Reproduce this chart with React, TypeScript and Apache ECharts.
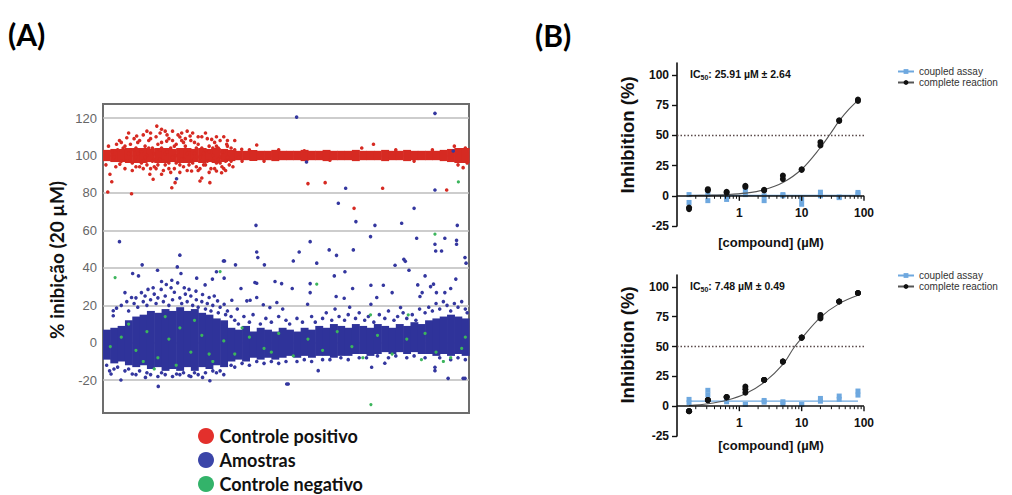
import React, { useEffect, useRef } from "react";
import * as echarts from "echarts";

// ---------------- Panel A data (x = sample position 0-100, y = % inhibition) ----------------
const binWidth = 2;
const yTicksA = [-20, 0, 20, 40, 60, 80, 100, 120];

// dense "Amostras" core, per 2-unit bin
const blueLow = [-9, -11, -10, -12, -13, -12, -14, -13, -15, -14, -15, -13, -15, -13, -14, -12, -13, -10, -9, -10, -8, -9, -8, -9, -8, -7, -8, -7, -8, -7, -7, -8, -7, -7, -6, -6, -7, -6, -5, -6, -5, -6, -5, -6, -6, -7, -6, -7, -6, -7];
const blueHigh = [7, 8, 9, 12, 14, 15, 17, 16, 18, 17, 19, 17, 18, 16, 15, 13, 12, 8, 7, 9, 6, 8, 7, 6, 8, 7, 6, 8, 7, 9, 8, 10, 9, 8, 10, 9, 8, 10, 9, 8, 10, 9, 11, 10, 12, 13, 14, 15, 14, 13];

// dense "Controle positivo" core, per 2-unit bin
const redLow = [97, 96.5, 96.5, 96, 96, 96, 96.5, 96, 96, 96.5, 96, 96, 96.5, 96, 96.5, 96, 96.5, 97, 97.5, 97.5, 97, 97.5, 97.5, 97, 97.5, 97.5, 97.5, 97, 97.5, 97.5, 97, 97.5, 97.5, 97.5, 97, 97.5, 97.5, 97.5, 97, 97.5, 97.5, 97, 97.5, 97.5, 97.5, 97.5, 97, 96.5, 96, 96];
const redHigh = [103, 103.5, 103.5, 104, 104, 104, 103.5, 104, 104, 103.5, 104, 104, 103.5, 104, 103.5, 104, 103.5, 103, 102.5, 102.5, 103, 102.5, 102.5, 103, 102.5, 102.5, 102.5, 103, 102.5, 102.5, 103, 102.5, 102.5, 102.5, 103, 102.5, 102.5, 102.5, 103, 102.5, 102.5, 103, 102.5, 102.5, 102.5, 102.5, 103, 103.5, 104, 104];

const redPoints = [
  [0.8, 95], [1.3, 80.5], [1.9, 90], [2.4, 86], [3.7, 106], [4.6, 95.4], [7.8, 79.6], [6.5, 109.5], [9.2, 110.4], [12.8, 90],
  [13.7, 87.3], [14.7, 115.7], [15.6, 112], [16, 90], [17.4, 107.7], [18.8, 82.8], [19.7, 85.5], [21, 109.9], [21.5, 108], [23.8, 110.4],
  [24.2, 91.7], [26.5, 86.4], [27, 88], [29.2, 85.5], [29.7, 108.6], [31, 91.7], [32.4, 90.8], [33.8, 106], [37.9, 103.3], [42, 105.6],
  [70.7, 104], [73.9, 106], [56, 85], [60.7, 85.5], [68.6, 71.8], [76.4, 82.5], [93.9, 81.6], [98.4, 93.5],
  [4, 103], [5, 97], [5.5, 104], [6, 93], [7, 101], [7.5, 106], [8, 96], [8.5, 103], [9, 99], [9.5, 107],
  [10, 94], [10.5, 102], [11, 97], [11.5, 105], [12, 100], [12.5, 108], [13, 93], [13.5, 104], [14, 98], [14.5, 110],
  [15, 95], [15.5, 103], [16, 107], [16.5, 92], [17, 101], [17.5, 111], [18, 96], [18.5, 104], [19, 99], [19.5, 93],
  [20, 106], [20.5, 102], [21, 95], [21.5, 112], [22, 98], [22.5, 105], [23, 92], [23.5, 103], [24, 108], [24.5, 96],
  [25, 101], [25.5, 94], [26, 106], [26.5, 99], [27, 110], [27.5, 95], [28, 103], [28.5, 97], [29, 105], [29.5, 93],
  [30, 100], [30.5, 107], [31, 96], [31.5, 104], [32, 99], [32.5, 94], [33, 102], [33.5, 97], [34, 105], [34.5, 95],
  [5, 107], [8, 92], [10, 108], [11, 93], [13, 112], [14, 94], [15, 106], [16.5, 97], [17, 113], [18, 93],
  [19, 108], [20, 96], [21, 91], [22, 107], [23, 113], [24, 97], [25, 107], [26, 92], [27, 104], [28, 112],
  [29, 91], [30, 104], [31, 110], [32, 96], [33, 93], [34, 108], [35, 97], [36, 103], [38, 97], [40, 103],
  [44, 97], [48, 103], [55, 102.5], [62, 97.5], [80, 103], [85, 97], [90, 103], [96, 105], [97, 95], [99, 104], [99.5, 96],
  [3, 99], [3.5, 94], [4.5, 108], [6, 105], [6.5, 97], [7, 112], [8.5, 109], [9, 94], [9.5, 101], [10.5, 96],
  [11, 111], [11.5, 99], [12, 95], [12.5, 104], [13, 109], [14, 101], [14.5, 93], [15.5, 98], [16, 104], [17, 95],
  [17.5, 102], [18, 109], [18.5, 91], [19.5, 105], [20, 100], [20.5, 111], [21.5, 98], [22, 94], [22.5, 109], [23, 101],
  [23.5, 95], [24.5, 112], [25, 98], [25.5, 104], [26, 110], [26.5, 93], [27.5, 101], [28, 95], [28.5, 109], [29, 102],
  [30, 97], [30.5, 93], [31, 105], [31.5, 98], [32, 108], [32.5, 102], [33, 110], [33.5, 92], [34, 99], [35, 104],
  [35.5, 94], [36, 108], [37, 99], [2.5, 102], [1.5, 105], [12, 113], [19, 113], [16, 114], [9, 104], [13.5, 97],
];

const bluePoints = [
  [52.9, 120.5], [90.7, 122.5], [95.7, 102.4], [55.6, 96.5], [20.1, 87.6], [66.3, 82.5], [90.7, 81.6], [64.3, 74.5], [85, 71.8], [69.1, 64.7],
  [41.8, 62.7], [74.3, 62.7], [81.6, 63.8], [96.8, 62.7], [4.5, 54], [56.6, 54], [73.1, 56.7], [85.7, 55.8], [90.7, 52.6], [93.4, 55.8],
  [96.6, 54.7], [96.6, 52.6], [92.5, 49], [90.9, 49], [98.9, 45.5], [99.2, 42.5], [53.6, 48.5], [61.8, 49.6], [63.8, 46.7], [68.4, 49.6],
  [52, 43.7], [58.4, 42.5], [79.8, 41.4], [82.2, 44.6], [82.6, 43.5], [83.6, 38.7], [63.2, 35.7], [66.1, 37.9], [51.7, 29], [56.6, 31.6],
  [56.6, 26.8], [68.2, 29], [73.2, 30.7], [76.6, 30.7], [79, 26.8], [86, 30.9], [88, 35.7], [89.5, 30], [90.3, 31.3], [91.1, 26.8],
  [93.4, 26.8], [95, 29], [96.4, 34], [63.7, 24.7], [65.9, 23.8], [74.8, 24.2], [73.2, 20.6], [86.6, 24.7], [87.2, 26.8], [55.9, 20.6],
  [63.4, 18], [67.4, 19], [81.3, 18.8], [58.8, -14.9], [73.4, -13.1], [77, -10.9], [90.7, -13.1], [90.7, -14.9], [94.3, -19], [98.9, -19],
  [50.6, -22], [42, 48.5], [42.3, 45.5], [21, 46.8], [32.9, 43.7], [33.2, 43.7], [10.7, 41.6], [20.3, 40.5], [36.2, 41.6], [44.1, 41.6],
  [8.1, 37], [9.7, 35.7], [14.9, 38.7], [21.3, 37], [25.6, 34.5], [29.9, 34], [31, 37.9], [33.1, 34.5], [41.5, 32.2], [42, 31.8],
  [47, 32.7], [48.8, 31.6], [16, 32.7], [18.8, 33.4], [27.9, 30.9], [37.7, 29], [39.3, 22.4], [40.2, 22.7], [42, 24.2], [43.8, 20.3],
  [45.6, 18.8], [49.1, 18], [47.5, 21.5], [35.2, 22.7], [36.7, 18], [2.8, 14.4], [2.8, 17.1], [3.7, 18.5], [6, 26.8], [7.8, 24.2],
  [10.5, 26.8], [12.3, 28.5], [13.7, 29.4], [15.9, 28.5], [17.3, 31.1], [18.6, 29.4], [20.4, 32], [22.2, 29.4], [23.5, 28.5], [25.4, 27.6],
  [27.2, 25.8], [29, 24.2], [30.4, 25], [31.3, 22.4], [33.1, 20.6], [20.1, -16.7], [15.1, -23.3], [4.9, -19.9], [29.2, -20.3], [50.2, -22],
  [1.8, -15], [2.2, -16.7], [8, -16.7], [11.6, -18.5], [23.5, -17.6], [27.2, -18.5], [98.4, -19],
  [5, 20], [6.5, 22], [7, 17], [8.5, 21], [9, 24], [9.5, 19], [11, 22], [11.5, 25], [12, 20], [13, 23],
  [14, 26], [14.5, 21], [15, 24], [16.5, 22], [17, 25], [18, 20], [19, 23], [19.5, 27], [21, 24], [21.5, 21],
  [22.5, 26], [23, 22], [24, 25], [24.5, 20], [25.5, 23], [26, 19], [27, 22], [28, 18], [28.5, 21], [29.5, 17],
  [30, 20], [31.5, 16], [32, 19], [33.5, 15], [34, 17], [35, 14],
  [36, 12], [37, 10], [38.5, 14], [40, 11], [41, 15], [43, 10], [44.5, 13], [46, 11], [48, 14], [50, 12],
  [51, 10], [53, 13], [54.5, 11], [57, 14], [58, 11], [60, 13], [61, 16], [62.5, 12], [64.5, 14], [66, 12],
  [67, 15], [69, 13], [70, 16], [71.5, 12], [72.5, 14], [74, 11], [75.5, 15], [77, 13], [78, 17], [79.5, 12],
  [80.5, 14], [82, 16], [83, 13], [84.5, 15], [85.5, 12], [86.5, 18], [88, 16], [89, 19], [90, 17], [91, 21],
  [92, 18], [93, 22], [94, 20], [95, 17], [96, 21], [97, 19], [98, 22], [99, 18], [99.5, 16],
  [1, -12], [3, -14], [4, -13], [6, -15], [7, -14], [9, -17], [10, -15], [12, -16], [13, -17], [15, -18],
  [16, -16], [17, -17], [19, -18], [21, -17], [22, -16], [24, -18], [25, -16], [26, -17], [28, -16], [30, -15],
  [31, -16], [32, -15], [33, -17], [35, -12], [36, -13], [38, -11], [40, -12], [42, -10], [44, -11], [46, -10],
  [48, -11], [50, -10], [53, -10], [55, -9], [57, -10], [60, -9], [62, -9], [65, -8], [67, -9], [70, -8],
  [72, -8], [75, -7], [78, -8], [80, -7], [83, -8], [85, -7], [88, -8], [92, -8], [95, -9], [97, -8], [99, -9],
];

const greenPoints = [
  [3.3, 34.8], [32, 38], [58.4, 31.3], [73.1, 14.9], [83.4, 14.9], [73.2, -33], [97.1, 85.9], [90.7, 58],
  [2, -2], [5, 3], [9, -4], [12, 6], [15, -8], [18, 2], [21, 8], [24, -5], [27, 4], [30, -10],
  [33, 1], [36, -6], [40, 3], [44, -3], [48, 5], [52, -7], [56, 2], [60, -4], [64, 6], [68, -2],
  [71, -8], [75, 4], [79, -6], [83, 2], [87, -9], [91, -5], [95, -8], [98, -3], [99, 3], [88, 5],
  [93, -10], [20, -12], [14, -14], [25, 12], [7, 10], [11, -10], [17, 14], [29, -6], [38, 8], [46, -5],
];

const legendA = ["Controle positivo", "Amostras", "Controle negativo"];

// ---------------- Panel B data ----------------
const concentrations = [0.156, 0.3125, 0.625, 1.25, 2.5, 5, 10, 20, 40, 80];
const yTicksB = [-25, 0, 25, 50, 75, 100];
const majorTicksB = [1, 10, 100];
const minorTicksB = [0.2, 0.3, 0.4, 0.5, 0.6, 0.7, 0.8, 0.9, 2, 3, 4, 5, 6, 7, 8, 9, 20, 30, 40, 50, 60, 70, 80, 90];

const topCompleteA = [-9.7, 5.5, 3.3, 8.3, 5, 16.7, 22, 44.4, 62.5, 79.7];
const topCompleteB = [-11, 4.5, 2.5, 7.3, 4.5, 13.9, 21.5, 41.7, 62, 78.6];
const topCoupledA = [1, 1, 0, 4, 0, 1, -3, 3, -1, 2.8];
const topCoupledB = [-5.5, -4, -3, 1, -4, 0, -7, 0, -1.5, 1.4];
const topCurveX = [0.156, 0.3125, 0.625, 1.25, 2.5, 5, 10, 20, 28.5, 40, 57, 80];
const topCurveY = [0.2, 0.5, 1, 2.2, 5, 11, 22, 40, 51, 62, 71.5, 79];
const topCoupledFitY = [0.3, 0.3];

const botCompleteA = [-4.2, 5.1, 7.6, 16.4, 22, 37.4, 57.5, 76.5, 87.8, 94.9];
const botCompleteB = [-4.2, 5.1, 7.6, 11.3, 22, 37.4, 57.5, 73.6, 87.8, 94.9];
const botCompleteC = [-4.2, 5.1, 7.6, 14.2, 22, 37.4, 57.5, 75, 87.8, 94.9];
const botCoupledA = [5.7, 13.3, 7, 1.4, 4.8, 3.7, 1.4, 6.5, 8.5, 12.7];
const botCoupledB = [2.8, 9.3, 3.7, 1.4, 3.4, 2, 1.4, 4.2, 5.7, 9.3];
const botCurveX = [0.156, 0.3125, 0.625, 1.25, 2.5, 5, 7.5, 10, 20, 40, 80];
const botCurveY = [0.5, 2, 5, 10.5, 20, 35, 49, 57, 74.5, 86, 93];
const botCoupledFitY = [4.2, 4.2];
const fitRangeX = [0.156, 80];

const ic50Top = "25.91 µM ± 2.64";
const ic50Bot = "7.48 µM ± 0.49";
const legendB = ["coupled assay", "complete reaction"];

// ---------------- helpers ----------------
const COL_RED = "#d62a22";
const COL_BLUE = "#2f339a";
const COL_GREEN = "#3cb55c";
const COL_LB = "#6ea8df";
const ARIAL = "'Liberation Sans', Arial, sans-serif";
const LATO = "Lato, 'Open Sans', sans-serif";

const pairs = (xs: number[], ys: number[]) => ys.map((y, i) => [xs[i], y]);

function bandSeries(name: string, low: number[], high: number[], color: string, z: number) {
  return {
    type: "custom",
    name,
    xAxisIndex: 0,
    yAxisIndex: 0,
    silent: true,
    z,
    data: low.map((l, i) => [i * binWidth, (i + 1) * binWidth, l, high[i]]),
    encode: { x: [0, 1], y: [2, 3] },
    renderItem: (_p: any, api: any) => {
      const a = api.coord([api.value(0), api.value(3)]);
      const b = api.coord([api.value(1), api.value(2)]);
      return {
        type: "rect",
        shape: { x: a[0], y: a[1], width: b[0] - a[0] + 0.6, height: b[1] - a[1] },
        style: { fill: color },
      };
    },
  };
}

function panelB(idx: number, completeReps: number[][], coupledReps: number[][], curveX: number[], curveY: number[], coupledFit: number[]) {
  const s: any[] = [];
  s.push({
    type: "line",
    name: "coupled assay",
    xAxisIndex: idx,
    yAxisIndex: idx,
    data: pairs(fitRangeX, coupledFit),
    symbol: "rect",
    showSymbol: false,
    symbolSize: 5,
    color: COL_LB,
    lineStyle: { color: COL_LB, width: 1.2 },
    z: 2,
  });
  coupledReps.forEach((rep) => {
    s.push({
      type: "scatter",
      name: "coupled assay pts",
      xAxisIndex: idx,
      yAxisIndex: idx,
      data: pairs(concentrations, rep),
      symbol: "rect",
      symbolSize: [5, 5],
      itemStyle: { color: COL_LB, opacity: 1 },
      z: 3,
    });
  });
  s.push({
    type: "line",
    name: "complete reaction",
    xAxisIndex: idx,
    yAxisIndex: idx,
    data: pairs(curveX, curveY),
    smooth: 0.35,
    symbol: "circle",
    showSymbol: false,
    color: "#111",
    lineStyle: { color: "#555", width: 1.1 },
    z: 4,
    markLine: {
      silent: true,
      symbol: "none",
      label: { show: false },
      data: [
        { yAxis: 50, lineStyle: { color: "#5a4a4a", type: [1.5, 2], width: 1.3 } },
        { yAxis: 0, lineStyle: { color: "#111", type: "solid", width: 1.6 } },
      ],
    },
  });
  completeReps.forEach((rep) => {
    s.push({
      type: "scatter",
      name: "complete reaction pts",
      xAxisIndex: idx,
      yAxisIndex: idx,
      data: pairs(concentrations, rep),
      symbol: "circle",
      symbolSize: 6,
      itemStyle: { color: "#111", opacity: 1 },
      z: 5,
    });
  });
  // minor ticks of the log axis (drawn on the zero line)
  s.push({
    type: "custom",
    xAxisIndex: idx,
    yAxisIndex: idx,
    silent: true,
    z: 6,
    data: minorTicksB.map((v) => [v, 0]),
    renderItem: (_p: any, api: any) => {
      const c = api.coord([api.value(0), api.value(1)]);
      return {
        type: "line",
        shape: { x1: c[0], y1: c[1], x2: c[0], y2: c[1] + 3 },
        style: { stroke: "#111", lineWidth: 1 },
      };
    },
  });
  // major ticks and labels on the zero line
  s.push({
    type: "custom",
    xAxisIndex: idx,
    yAxisIndex: idx,
    silent: true,
    z: 6,
    data: majorTicksB.map((v) => [v, 0]),
    renderItem: (_p: any, api: any) => {
      const v = api.value(0);
      const c = api.coord([v, api.value(1)]);
      return {
        type: "group",
        children: [
          { type: "line", shape: { x1: c[0], y1: c[1], x2: c[0], y2: c[1] + 5 }, style: { stroke: "#111", lineWidth: 1.4 } },
          {
            type: "text",
            x: c[0],
            y: c[1] + 17,
            style: { text: String(v), align: "center", verticalAlign: "middle", fontSize: 12, fontWeight: "bold", fontFamily: ARIAL, fill: "#111" },
          },
        ],
      };
    },
  });
  return s;
}

export default function App() {
  const ref = useRef<HTMLDivElement>(null);

  useEffect(() => {
    if (!ref.current) return;
    const chart = echarts.init(ref.current, undefined, { renderer: "svg" });

    const xB = (gridIndex: number) => ({
      type: "log",
      gridIndex,
      min: 0.1,
      max: 100,
      logBase: 10,
      axisLine: { show: false },
      axisTick: { show: false },
      axisLabel: { show: false },
      splitLine: { show: false },
      minorTick: { show: false },
    });
    const yB = (gridIndex: number) => ({
      type: "value",
      gridIndex,
      min: -25,
      max: 110,
      interval: 25,
      axisLine: { show: true, onZero: false, lineStyle: { color: "#111", width: 1.6 } },
      axisTick: { show: true, length: 5, customValues: yTicksB, lineStyle: { color: "#111", width: 1.4 } },
      axisLabel: {
        customValues: yTicksB,
        fontSize: 12,
        fontWeight: "bold",
        fontFamily: ARIAL,
        color: "#111",
        margin: 8,
      },
      splitLine: { show: false },
    });

    const legendRow = (name: string, color: string, top: number) => ({
      data: [{ name, icon: "circle", itemStyle: { color, opacity: 1 } }],
      orient: "vertical",
      left: 198,
      top,
      itemWidth: 17,
      itemHeight: 16,
      itemGap: 0,
      padding: 0,
      selectedMode: false,
      textStyle: { fontSize: 18, fontWeight: "bold", fontFamily: LATO, color: "#111" },
    });
    const legendBox = (top: number) => ({
      data: legendB,
      orient: "vertical",
      left: 897,
      top,
      itemWidth: 16,
      itemHeight: 6,
      itemGap: 0,
      padding: 0,
      selectedMode: false,
      textStyle: { fontSize: 10, fontFamily: ARIAL, color: "#333", lineHeight: 11 },
    });

    const option: any = {
      animation: false,
      backgroundColor: "#fff",
      grid: [
        { left: 103, top: 104, width: 366, height: 309, show: true, borderColor: "#6d6d6d", borderWidth: 2, backgroundColor: "#fff" },
        { left: 677, top: 63, width: 187, height: 163 },
        { left: 677, top: 275, width: 187, height: 161 },
      ],
      xAxis: [
        { type: "value", gridIndex: 0, min: 0, max: 100, show: false, splitLine: { show: false } },
        xB(1),
        xB(2),
      ],
      yAxis: [
        {
          type: "value",
          gridIndex: 0,
          min: -37.5,
          max: 127.5,
          axisLine: { show: false },
          axisTick: { show: false, customValues: yTicksA },
          axisLabel: { customValues: yTicksA, fontSize: 13, color: "#666", fontFamily: ARIAL, margin: 6 },
          splitLine: { show: true, lineStyle: { color: "#bdbdbd", width: 1.5 } },
        },
        yB(1),
        yB(2),
      ],
      legend: [
        legendRow(legendA[0], "#e3302c", 427),
        legendRow(legendA[1], "#3b45a8", 451),
        legendRow(legendA[2], "#33b36a", 475),
        legendBox(66),
        legendBox(270),
      ],
      graphic: [
        { type: "text", x: 8, y: 34, style: { text: "(A)", fontSize: 30, fontWeight: "bold", fontFamily: LATO, fill: "#000", verticalAlign: "middle" } },
        { type: "text", x: 535, y: 35, style: { text: "(B)", fontSize: 30, fontWeight: "bold", fontFamily: LATO, fill: "#000", verticalAlign: "middle" } },
        {
          type: "text", x: 56, y: 260, rotation: Math.PI / 2,
          style: { text: "% inibição (20 µM)", fontSize: 19, fontWeight: "bold", fontFamily: LATO, fill: "#111", align: "center", verticalAlign: "middle" },
        },
        {
          type: "text", x: 627, y: 135, rotation: Math.PI / 2,
          style: { text: "Inhibition (%)", fontSize: 18.5, fontWeight: "bold", fontFamily: ARIAL, fill: "#111", align: "center", verticalAlign: "middle" },
        },
        {
          type: "text", x: 627, y: 345, rotation: Math.PI / 2,
          style: { text: "Inhibition (%)", fontSize: 18.5, fontWeight: "bold", fontFamily: ARIAL, fill: "#111", align: "center", verticalAlign: "middle" },
        },
        {
          type: "text", x: 771, y: 242,
          style: { text: "[compound] (µM)", fontSize: 13, fontWeight: "bold", fontFamily: ARIAL, fill: "#111", align: "center", verticalAlign: "middle" },
        },
        {
          type: "text", x: 771, y: 445,
          style: { text: "[compound] (µM)", fontSize: 13, fontWeight: "bold", fontFamily: ARIAL, fill: "#111", align: "center", verticalAlign: "middle" },
        },
        ...[
          [74, ic50Top],
          [286, ic50Bot],
        ].map(([y, t]) => ({
          type: "text",
          x: 690,
          y,
          style: {
            text: `{m|IC}{s|50}{m|: ${t}}`,
            verticalAlign: "middle",
            rich: {
              m: { fontSize: 10.5, fontWeight: "bold", fontFamily: ARIAL, fill: "#111", lineHeight: 14 },
              s: { fontSize: 7, fontWeight: "bold", fontFamily: ARIAL, fill: "#111", verticalAlign: "bottom", lineHeight: 14, padding: [6, 0, 0, 0] },
            },
          },
        })),
      ],
      series: [
        bandSeries("Amostras core", blueLow, blueHigh, COL_BLUE, 2),
        {
          type: "scatter",
          name: "Amostras",
          xAxisIndex: 0,
          yAxisIndex: 0,
          data: bluePoints,
          symbolSize: 3.6,
          itemStyle: { color: "#34379f", opacity: 1 },
          z: 3,
          silent: true,
        },
        {
          type: "scatter",
          name: "Controle negativo",
          xAxisIndex: 0,
          yAxisIndex: 0,
          data: greenPoints,
          symbolSize: 3.2,
          itemStyle: { color: COL_GREEN, opacity: 1 },
          z: 4,
          silent: true,
        },
        bandSeries("Controle positivo core", redLow, redHigh, COL_RED, 3),
        {
          type: "scatter",
          name: "Controle positivo",
          xAxisIndex: 0,
          yAxisIndex: 0,
          data: redPoints,
          symbolSize: 3.6,
          itemStyle: { color: COL_RED, opacity: 1 },
          z: 4,
          silent: true,
        },
        ...panelB(1, [topCompleteA, topCompleteB], [topCoupledA, topCoupledB], topCurveX, topCurveY, topCoupledFitY),
        ...panelB(2, [botCompleteA, botCompleteB, botCompleteC], [botCoupledA, botCoupledB], botCurveX, botCurveY, botCoupledFitY),
      ],
    };

    chart.setOption(option);
    return () => chart.dispose();
  }, []);

  return <div ref={ref} style={{ position: "fixed", left: 0, top: 0, width: 1012, height: 495, background: "#fff" }} />;
}
